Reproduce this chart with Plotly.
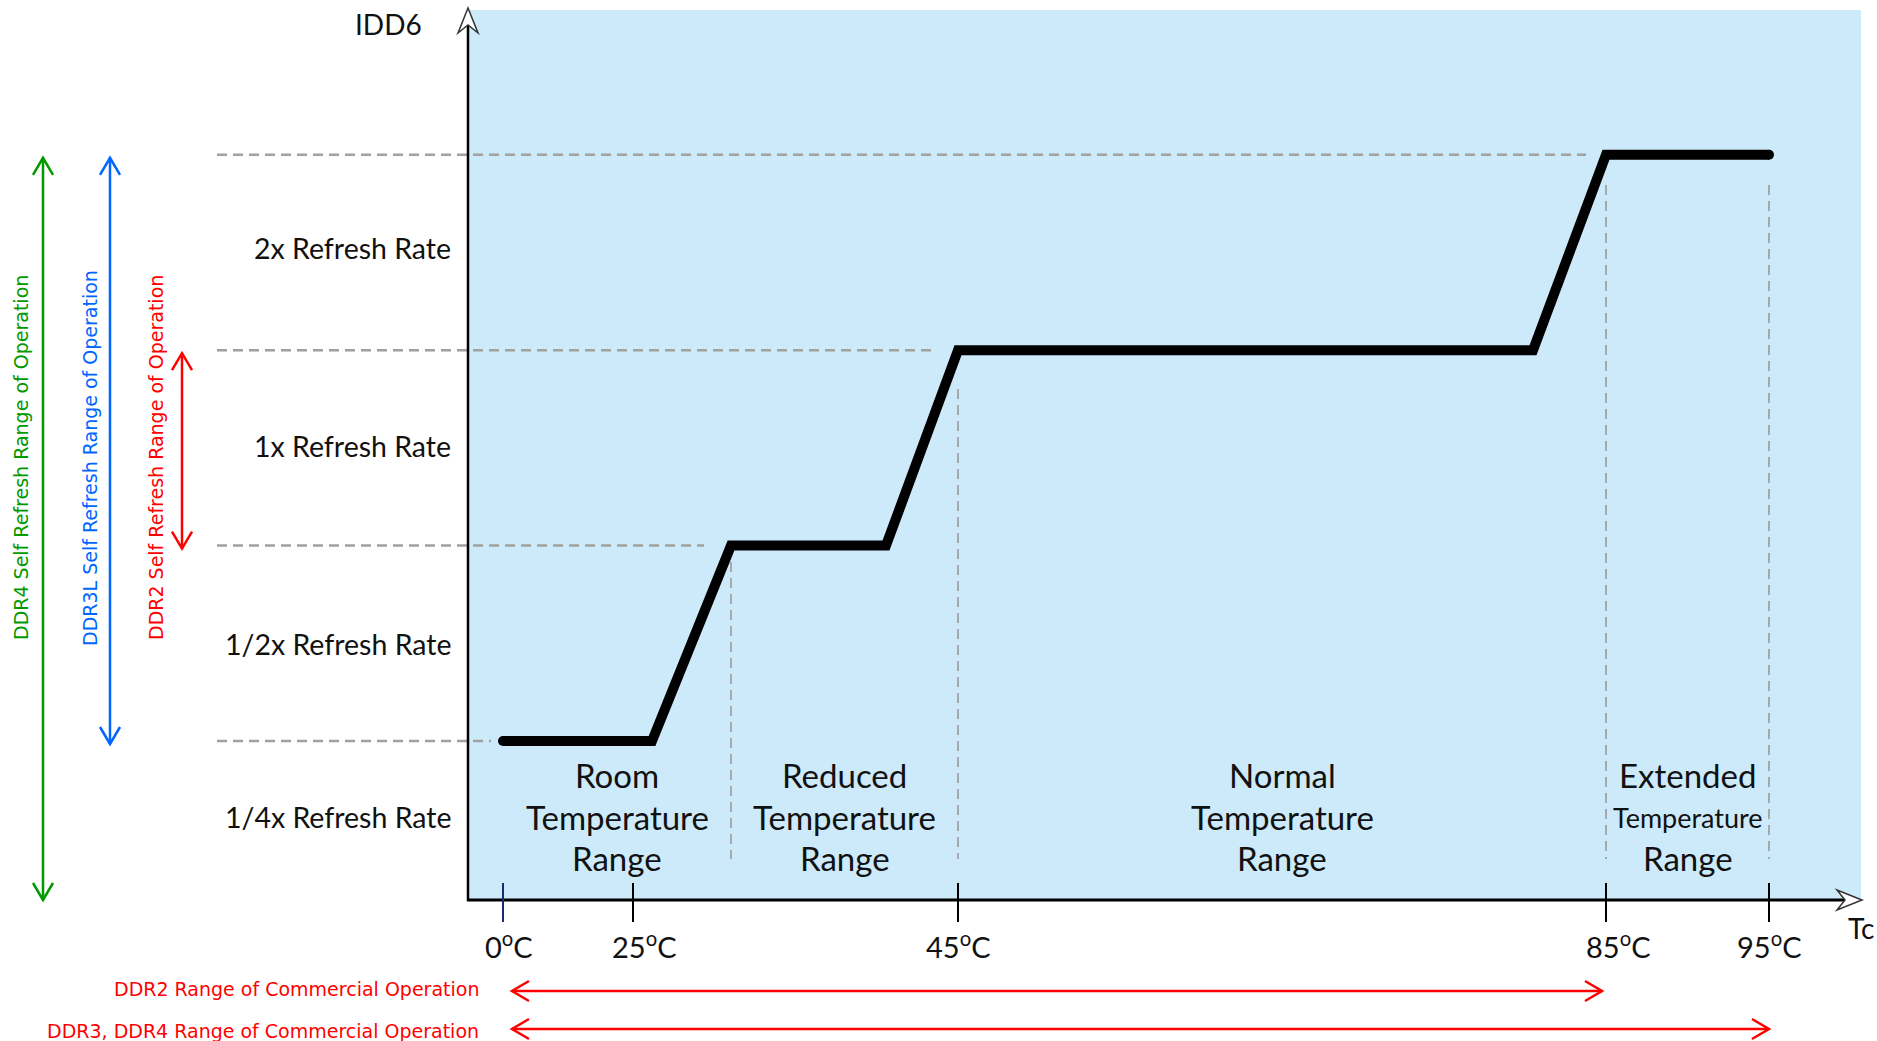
import plotly.graph_objects as go

W, H = 1877, 1041

# ---------------- data ----------------
rate_labels = ["1/4x Refresh Rate", "1/2x Refresh Rate", "1x Refresh Rate", "2x Refresh Rate"]
rate_levels = [0, 1, 2, 3]
# IDD6 curve (x: schematic temperature position, y: refresh level)
curve_x = [503, 652, 731, 886, 958, 1533, 1606, 1769]
curve_level = [0, 0, 1, 1, 2, 2, 3, 3]
temp_labels = ["0<sup>o</sup>C", "25<sup>o</sup>C", "45<sup>o</sup>C", "85<sup>o</sup>C", "95<sup>o</sup>C"]
temp_x = [503, 633, 958, 1606, 1769]
region_edges = [503, 731, 958, 1606, 1769]
region_names = [["Room", "Temperature", "Range"],
                ["Reduced", "Temperature", "Range"],
                ["Normal", "Temperature", "Range"],
                ["Extended", "Temperature", "Range"]]
sr_names = ["DDR4 Self Refresh Range of Operation",
            "DDR3L Self Refresh Range of Operation",
            "DDR2 Self Refresh Range of Operation"]
sr_high = [3, 3, 2]
sr_low = [None, 0, 1]      # None = down to the temperature axis
sr_colors = ["#009900", "#0066ff", "#ff0000"]
comm_names = ["DDR2 Range of Commercial Operation",
              "DDR3, DDR4 Range of Commercial Operation"]
comm_to = [3, 4]           # index into temp_x (85C, 95C)

# ---------------- layout helpers ----------------
Y0, STEP = 741.0, 195.4
def Y(py):
    return (Y0 - py) / STEP

def PY(level):
    return Y0 - level * STEP

AX_X, AX_Y = 468, 900
BG_TOP, BG_RIGHT = 10, 1861
LBL_FONT = "Lato, Open Sans, sans-serif"
CLR_FONT = "DejaVu Sans, Verdana, sans-serif"

shapes = []
ann = []

# background
shapes.append(dict(type="rect", xref="x", yref="y", x0=AX_X, x1=BG_RIGHT, y0=Y(AX_Y), y1=Y(BG_TOP),
                   fillcolor="rgb(204,234,250)", line=dict(width=0), layer="below"))

# horizontal dashed guides
dash_end = [491, 704, 936, 1586]
for lv, xe in zip(rate_levels, dash_end):
    shapes.append(dict(type="line", xref="x", yref="y", x0=217, x1=xe, y0=lv, y1=lv,
                       line=dict(color="#a0a0a0", width=2.5, dash="10px,6px"), layer="below"))
# vertical dashed guides
vtops = {731: 562, 958: 389, 1606: 185, 1769: 185}
for xe in region_edges[1:]:
    shapes.append(dict(type="line", xref="x", yref="y", x0=xe, x1=xe, y0=Y(vtops[xe]), y1=Y(859),
                       line=dict(color="#a8a8a8", width=2, dash="10px,6px"), layer="below"))

# axes
shapes.append(dict(type="line", xref="x", yref="y", x0=AX_X, x1=AX_X, y0=Y(AX_Y + 1), y1=Y(24),
                   line=dict(color="black", width=2.5)))
shapes.append(dict(type="line", xref="x", yref="y", x0=AX_X - 1, x1=1846, y0=Y(AX_Y), y1=Y(AX_Y),
                   line=dict(color="black", width=3)))
# axis arrow heads (hollow)
def path(pts, close=True):
    s = "M " + " L ".join(f"{x},{Y(y)}" for x, y in pts)
    return s + (" Z" if close else "")
shapes.append(dict(type="path", xref="x", yref="y",
                   path=path([(458, 33), (468, 8), (478, 33), (468, 25)]),
                   fillcolor="white", line=dict(color="#333333", width=1.5)))
shapes.append(dict(type="path", xref="x", yref="y",
                   path=path([(1837, 890), (1862, 900), (1837, 910), (1845, 900)]),
                   fillcolor="white", line=dict(color="#333333", width=1.5)))

# ticks
tick_dx = [6, 11, 0, 12, 0]
for i, (tx, tl) in enumerate(zip(temp_x, temp_labels)):
    shapes.append(dict(type="line", xref="x", yref="y", x0=tx, x1=tx, y0=Y(883), y1=Y(922),
                       line=dict(color="#1a2a6c" if i == 0 else "black", width=2)))
    ann.append(dict(x=tx + tick_dx[i], y=Y(945), text=tl, showarrow=False, xanchor="center", yanchor="middle",
                    font=dict(family=LBL_FONT, size=29, color="#111111")))

# refresh rate labels
rate_py = [817, 644, 446, 248]
for lbl, py in zip(rate_labels, rate_py):
    ann.append(dict(x=453, y=Y(py), text=lbl, showarrow=False, xanchor="right", yanchor="middle",
                    font=dict(family=LBL_FONT, size=28.5, color="#111111")))

# axis titles
ann.append(dict(x=424, y=Y(24), text="IDD6", showarrow=False, xanchor="right", yanchor="middle",
                font=dict(family=LBL_FONT, size=28, color="#111111")))
ann.append(dict(x=1846, y=Y(928), text="Tc", showarrow=False, xanchor="left", yanchor="middle",
                font=dict(family=LBL_FONT, size=28, color="#111111")))

# region labels
line_py = [775, 817, 858]
for i, names in enumerate(region_names):
    cx = (region_edges[i] + region_edges[i + 1]) / 2
    for j, (nm, py) in enumerate(zip(names, line_py)):
        size = 33
        if i == 3 and j == 1:
            size = 27
        ann.append(dict(x=cx, y=Y(py), text=nm, showarrow=False, xanchor="center", yanchor="middle",
                        font=dict(family=LBL_FONT, size=size, color="#111111")))

# self refresh vertical arrows
sr_x = [43, 110, 182]
sr_tx = [21, 90, 156]
for name, hi, lo, col, x, tx in zip(sr_names, sr_high, sr_low, sr_colors, sr_x, sr_tx):
    top = PY(hi) + 3
    bot = AX_Y if lo is None else PY(lo) + 3
    shapes.append(dict(type="line", xref="x", yref="y", x0=x, x1=x, y0=Y(top), y1=Y(bot),
                       line=dict(color=col, width=2.5)))
    shapes.append(dict(type="path", xref="x", yref="y",
                       path=path([(x - 10, top + 17), (x, top), (x + 10, top + 17)], close=False),
                       line=dict(color=col, width=2.5)))
    shapes.append(dict(type="path", xref="x", yref="y",
                       path=path([(x - 10, bot - 17), (x, bot), (x + 10, bot - 17)], close=False),
                       line=dict(color=col, width=2.5)))
    ann.append(dict(x=tx, y=Y(458), text=name, showarrow=False, textangle=-90,
                    xanchor="center", yanchor="middle",
                    font=dict(family=CLR_FONT, size=19, color=col)))

# commercial operation horizontal arrows
comm_py = [991, 1029]
comm_ty = [989, 1031]
for name, idx, py, ty in zip(comm_names, comm_to, comm_py, comm_ty):
    x0 = temp_x[0] + 9
    x1 = temp_x[idx] - (4 if idx == 3 else 0)
    shapes.append(dict(type="line", xref="x", yref="y", x0=x0, x1=x1, y0=Y(py), y1=Y(py),
                       line=dict(color="#ff0000", width=2.5)))
    shapes.append(dict(type="path", xref="x", yref="y",
                       path=path([(x0 + 17, py - 10), (x0, py), (x0 + 17, py + 10)], close=False),
                       line=dict(color="#ff0000", width=2.5)))
    shapes.append(dict(type="path", xref="x", yref="y",
                       path=path([(x1 - 17, py - 10), (x1, py), (x1 - 17, py + 10)], close=False),
                       line=dict(color="#ff0000", width=2.5)))
    ann.append(dict(x=481, y=Y(ty), text=name, showarrow=False, xanchor="right", yanchor="middle",
                    font=dict(family=CLR_FONT, size=19, color="#ff0000")))

fig = go.Figure()
fig.add_trace(go.Scatter(x=curve_x, y=curve_level, mode="lines",
                         line=dict(color="black", width=10), hoverinfo="skip"))
fig.add_trace(go.Scatter(x=[curve_x[0], curve_x[-1]], y=[curve_level[0], curve_level[-1]], mode="markers",
                         marker=dict(color="black", size=10, line=dict(width=0)), hoverinfo="skip"))

fig.update_layout(
    width=W, height=H, margin=dict(l=0, r=0, t=0, b=0),
    paper_bgcolor="white", plot_bgcolor="white", showlegend=False,
    xaxis=dict(range=[0, W], visible=False, fixedrange=True),
    yaxis=dict(range=[Y(H), Y(0)], visible=False, fixedrange=True),
    shapes=shapes, annotations=ann,
)
fig.write_html("out.html", config={"displayModeBar": False},
               post_script="document.body.style.margin='0';document.body.style.overflow='hidden';")
